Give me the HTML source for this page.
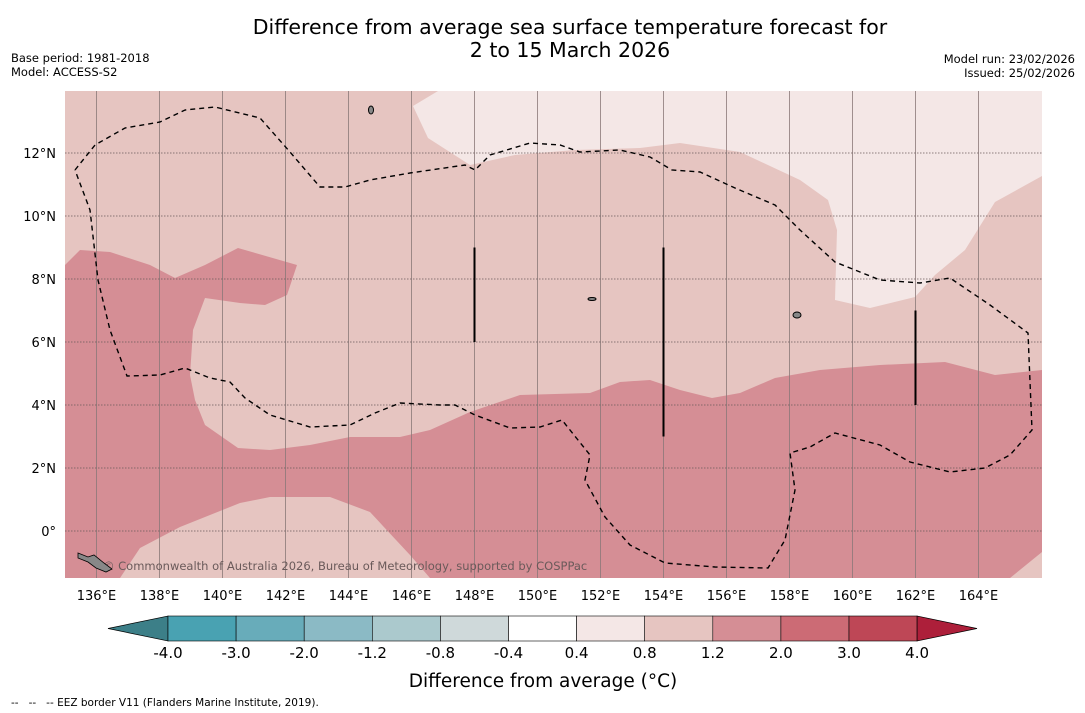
<!DOCTYPE html>
<html><head><meta charset="utf-8"><style>
body{margin:0;background:#fff;width:1085px;height:713px;overflow:hidden;font-family:"DejaVu Sans","Liberation Sans",sans-serif}
svg{position:absolute;left:0;top:0}
</style></head><body>
<svg id="s" width="1085" height="713">
<text x="570" y="34" font-size="20.5" text-anchor="middle">Difference from average sea surface temperature forecast for</text>
<text x="570" y="57" font-size="20.5" text-anchor="middle">2 to 15 March 2026</text>
<text x="11" y="62" font-size="11.5">Base period: 1981-2018</text>
<text x="11" y="76" font-size="11.5">Model: ACCESS-S2</text>
<text x="1075" y="63" font-size="11.5" text-anchor="end">Model run: 23/02/2026</text>
<text x="1075" y="77" font-size="11.5" text-anchor="end">Issued: 25/02/2026</text>
<clipPath id="mc"><rect x="65" y="91" width="977" height="487"/></clipPath>
<g id="map" clip-path="url(#mc)">
<rect x="65" y="91" width="977" height="487" fill="#e6c5c1"/>
<polygon fill="#f4e7e6" points="438,91 413,106 428,138 470,165 515,155 575,150 640,148 680,143 740,152 800,180 828,200 837,230 835,300 870,308 915,297 935,275 965,250 995,202 1042,176 1042,91"/>
<polygon fill="#d58e95" points="65,265 80,250 110,252 150,265 175,278 205,265 238,248 297,265 287,295 265,305 240,303 205,298 193,330 190,375 195,400 205,425 238,448 270,450 310,445 350,437 400,437 430,430 470,412 520,395 590,393 620,382 650,380 680,390 712,398 740,393 775,378 820,370 880,365 945,362 995,375 1042,370 1042,552 1010,578 430,578 410,555 370,512 330,497 270,497 240,503 180,527 140,548 120,578 65,578"/>
<g id="grid"></g>
<polyline fill="none" stroke="#000" stroke-width="1.4" stroke-dasharray="5,4" points="75,170 95,145 125,128 160,122 185,110 215,107 260,118 290,152 320,187 345,187 370,180 410,173 465,165 475,170 490,155 530,143 560,145 580,152 620,150 650,157 672,170 700,172 735,188 775,205 800,230 835,262 880,280 920,283 950,278 990,305 1028,333 1032,430 1010,455 985,468 950,472 910,462 880,445 835,433 810,447 790,453 795,490 785,540 768,568 715,567 665,563 630,545 605,517 585,480 590,455 578,440 562,420 540,427 510,428 475,415 455,405 440,405 400,403 375,413 350,425 310,427 270,415 245,398 230,382 210,378 185,368 160,375 127,376 110,330 98,280 90,210 75,170"/>
<g id="bars"></g>
<text x="103" y="570" font-size="11.5" fill="#6a5a5a">© Commonwealth of Australia 2026, Bureau of Meteorology, supported by COSPPac</text>
<path d="M78,553 l10,4 l6,-2 l10,8 l8,6 l-6,3 l-10,-4 l-8,-6 l-10,-4z" fill="#888" stroke="#000" stroke-width="0.8"/>
<ellipse cx="797" cy="315" rx="4" ry="3" fill="#888" stroke="#000"/>
<ellipse cx="371" cy="110" rx="2.5" ry="4" fill="#888" stroke="#000"/>
<ellipse cx="592" cy="299" rx="4" ry="1.5" fill="#888" stroke="#000"/>
</g>
<g id="axes"></g>
<g id="cbar"></g>
<text x="543" y="687" font-size="18.5" text-anchor="middle">Difference from average (°C)</text>
<text x="11" y="706" font-size="10.5" xml:space="preserve" style="white-space:pre">--   --   -- EEZ border V11 (Flanders Marine Institute, 2019).</text>
</svg>
<script>
const lonTicks=[136,138,140,142,144,146,148,150,152,154,156,158,160,162,164];
const latTicks=[0,2,4,6,8,10,12];
const barLons=[148,154,162];
const barLatLo=[6,3,4];
const barLatHi=[9,9,7];
const cbLabels=["-4.0","-3.0","-2.0","-1.2","-0.8","-0.4","0.4","0.8","1.2","2.0","3.0","4.0"];
const cbColors=["#49a2b2","#68acba","#8bbac5","#abc9cd","#cfd9da","#ffffff","#f4e7e6","#e6c5c1","#d58e95","#cc6b75","#be4756"];
const NS="http://www.w3.org/2000/svg";
const X=lon=>65+(lon-135)*31.5, Y=lat=>531-lat*31.5;
function mk(tag,at,parent){const e=document.createElementNS(NS,tag);for(const k in at)e.setAttribute(k,at[k]);parent.appendChild(e);return e;}
const grid=document.getElementById('grid'),axes=document.getElementById('axes'),bars=document.getElementById('bars'),cb=document.getElementById('cbar');
lonTicks.forEach(l=>{
 const g=mk('line',{x1:X(l),x2:X(l),y1:91,y2:578,stroke:'#8a7878','stroke-width':0.8},grid);
 
 
 const t=mk('text',{x:X(l),y:600,'font-size':13,'text-anchor':'middle'},axes);t.textContent=l+'°E';
 
 
});
latTicks.forEach(l=>{
 const g=mk('line',{x1:65,x2:1042,y1:Y(l),y2:Y(l),stroke:'#6a5a5a','stroke-width':0.8,'stroke-dasharray':'1.5,1.5'},grid);
 
 
 const t=mk('text',{x:56,y:Y(l)+5,'font-size':13,'text-anchor':'end'},axes);t.textContent=l===0?'0°':l+'°N';
 
 
});
barLons.forEach((l,i)=>{
 const b=mk('line',{x1:X(l),x2:X(l),y1:Y(barLatHi[i]),y2:Y(barLatLo[i]),stroke:'#000','stroke-width':2},bars);
 
 
});
const cx0=168,cw=68.1,cy=616,ch=25;
const l=mk('polygon',{points:`${cx0},${cy} ${cx0},${cy+ch} 108,${cy+ch/2}`,fill:'#3c7f88',stroke:'#000','stroke-width':0.7},cb);


cbColors.forEach((c,i)=>{
 const r=mk('rect',{x:cx0+i*cw,y:cy,width:cw,height:ch,fill:c,stroke:'#000','stroke-width':0.6},cb);
 
 
});
const xe=cx0+cbColors.length*cw;
const h=mk('polygon',{points:`${xe},${cy} ${xe},${cy+ch} 977,${cy+ch/2}`,fill:'#ad1f3a',stroke:'#000','stroke-width':0.7},cb);


cbLabels.forEach((s,i)=>{
 const t=mk('text',{x:cx0+i*cw,y:658,'font-size':15,'text-anchor':'middle'},cb);t.textContent=s;
 
 
});
</script>
</body></html>
